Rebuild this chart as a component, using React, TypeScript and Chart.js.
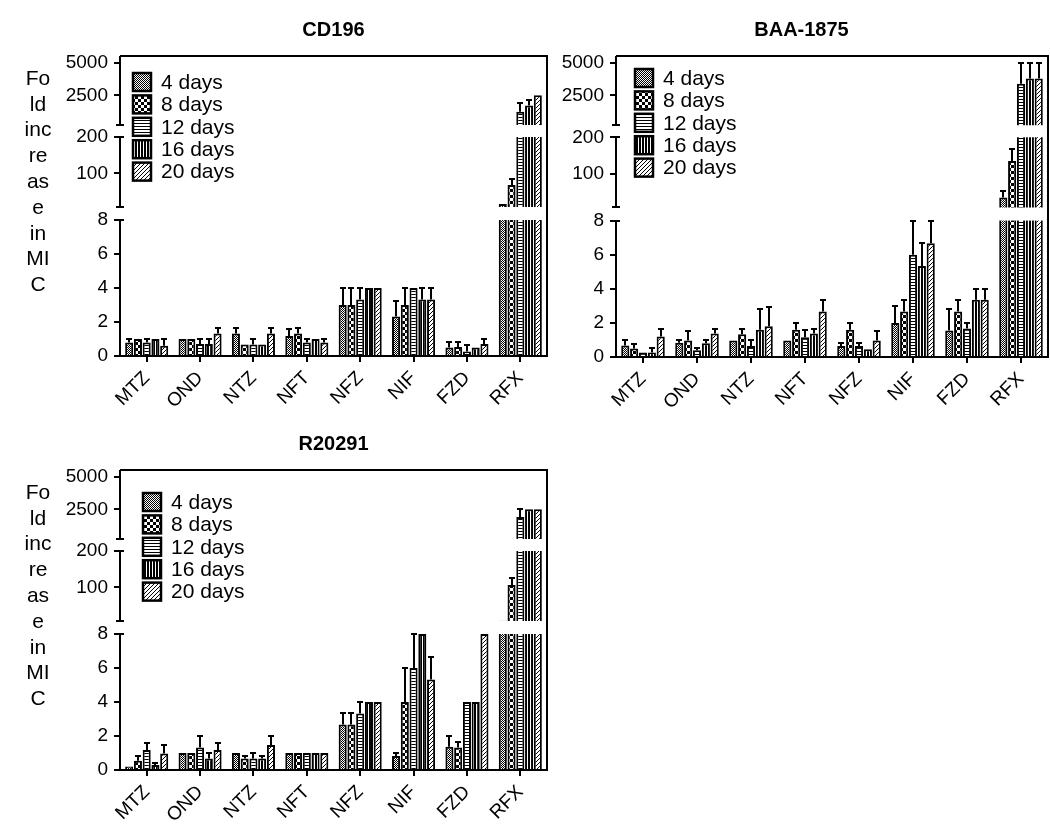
import React, { useEffect, useRef } from 'react';
import { Chart, registerables, LinearScale } from 'chart.js';

Chart.register(...registerables);

// ---------- data ----------
const categories = ['MTZ', 'OND', 'NTZ', 'NFT', 'NFZ', 'NIF', 'FZD', 'RFX'];
const seriesLabels = ['4 days', '8 days', '12 days', '16 days', '20 days'];
const yTickValues = [0, 2, 4, 6, 8, 100, 200, 2500, 5000];
const yTitleLines = ['Fo', 'ld', 'inc', 're', 'as', 'e', 'in', 'MI', 'C'];
const panelTitles = ['CD196', 'BAA-1875', 'R20291'];

// CD196
const cd196Day4 = [0.8, 1.0, 1.33, 1.17, 3.0, 2.33, 0.5, 16];
const cd196Day4Err = [0.2, 0, 0.33, 0.43, 1.0, 0.9, 0.3, 0];
const cd196Day8 = [1.0, 1.0, 0.67, 1.33, 3.0, 3.0, 0.53, 68];
const cd196Day8Err = [0, 0, 0, 0.33, 1.0, 1.0, 0.3, 18];
const cd196Day12 = [0.8, 0.7, 0.67, 0.8, 3.33, 4.0, 0.27, 1230];
const cd196Day12Err = [0.2, 0.3, 0.33, 0.2, 0.67, 0, 0.38, 650];
const cd196Day16 = [1.0, 0.7, 0.67, 1.0, 4.0, 3.33, 0.5, 1700];
const cd196Day16Err = [0, 0.3, 0, 0, 0, 0.67, 0, 430];
const cd196Day20 = [0.6, 1.33, 1.33, 0.8, 4.0, 3.33, 0.7, 2500];
const cd196Day20Err = [0.4, 0.33, 0.33, 0.2, 0, 0.67, 0.3, 0];

// BAA-1875
const baaDay4 = [0.67, 0.83, 0.97, 0.97, 0.64, 2.0, 1.55, 35];
const baaDay4Err = [0.33, 0.14, 0, 0, 0.19, 1.0, 1.25, 18];
const baaDay8 = [0.5, 0.97, 1.33, 1.6, 1.6, 2.67, 2.67, 135];
const baaDay8Err = [0.25, 0.53, 0.33, 0.4, 0.4, 0.67, 0.67, 33];
const baaDay12 = [0.27, 0.39, 0.64, 1.16, 0.64, 6.0, 1.67, 3400];
const baaDay12Err = [0, 0.15, 0.36, 0.44, 0.16, 2.0, 0.33, 1600];
const baaDay16 = [0.27, 0.8, 1.6, 1.38, 0.45, 5.33, 3.35, 3800];
const baaDay16Err = [0.23, 0.2, 1.23, 0.27, 0, 1.37, 0.65, 1200];
const baaDay20 = [1.2, 1.38, 1.8, 2.67, 0.97, 6.67, 3.35, 3800];
const baaDay20Err = [0.45, 0.29, 1.15, 0.68, 0.53, 1.33, 0.65, 1200];

// R20291
const r20291Day4 = [0.2, 1.0, 1.0, 1.0, 2.67, 0.83, 1.37, 9];
const r20291Day4Err = [0, 0, 0, 0, 0.67, 0.17, 0.63, 0];
const r20291Day8 = [0.55, 1.0, 0.67, 1.0, 2.67, 4.0, 1.33, 107];
const r20291Day8Err = [0.27, 0, 0.17, 0, 0.67, 2.0, 0.33, 18];
const r20291Day12 = [1.17, 1.33, 0.67, 1.0, 3.33, 6.0, 4.0, 1900];
const r20291Day12Err = [0.43, 0.67, 0.33, 0, 0.67, 2.0, 0, 600];
const r20291Day16 = [0.3, 0.67, 0.67, 1.0, 4.0, 8.0, 4.0, 2500];
const r20291Day16Err = [0.13, 0.33, 0.17, 0, 0, 0, 0, 0];
const r20291Day20 = [0.97, 1.17, 1.47, 1.0, 4.0, 5.33, 8.0, 2500];
const r20291Day20Err = [0.53, 0.43, 0.53, 0, 0, 1.33, 0, 0];

// ---------- broken axis scale ----------
// each segment: [valueMin, valueMax, fractionFrom, fractionTo] (fraction of axis height from bottom)
const axisSegments = [
  [0, 8, 0, 0.4533],
  [8, 200, 0.4967, 0.73],
  [200, 5540, 0.77, 1.0],
];

class BrokenScale extends LinearScale {
  static id = 'broken';
  toFraction(v: number): number {
    const segs = axisSegments;
    for (let i = 0; i < segs.length; i++) {
      const s = segs[i];
      if (v <= s[1] || i === segs.length - 1) {
        const t = Math.max(0, (v - s[0]) / (s[1] - s[0]));
        return s[2] + t * (s[3] - s[2]);
      }
    }
    return 0;
  }
  getPixelForValue(v: number): number {
    const f = this.toFraction(v);
    return this.bottom - f * (this.bottom - this.top);
  }
  getValueForPixel(p: number): number {
    const f = (this.bottom - p) / (this.bottom - this.top);
    for (const s of axisSegments) {
      if (f <= s[3]) {
        const t = Math.max(0, (f - s[2]) / (s[3] - s[2]));
        return s[0] + t * (s[1] - s[0]);
      }
    }
    return axisSegments[axisSegments.length - 1][1];
  }
}
Chart.register(BrokenScale as any);

Chart.defaults.font.family = '"Liberation Sans", Arial, Helvetica, sans-serif';
Chart.defaults.color = '#000';

// ---------- patterns ----------
function makePattern(kind: number): CanvasPattern | string {
  const c = document.createElement('canvas');
  const ctx = c.getContext('2d');
  if (!ctx) return '#888';
  if (kind === 0) {
    c.width = 2; c.height = 2;
    ctx.fillStyle = '#fff'; ctx.fillRect(0, 0, 2, 2);
    ctx.fillStyle = '#000'; ctx.fillRect(0, 0, 1, 1); ctx.fillRect(1, 1, 1, 1);
  } else if (kind === 1) {
    c.width = 6; c.height = 6;
    ctx.fillStyle = '#000'; ctx.fillRect(0, 0, 6, 6);
    ctx.fillStyle = '#fff'; ctx.fillRect(0, 0, 3, 3); ctx.fillRect(3, 3, 3, 3);
  } else if (kind === 2) {
    c.width = 3; c.height = 3;
    ctx.fillStyle = '#fff'; ctx.fillRect(0, 0, 3, 3);
    ctx.fillStyle = '#000'; ctx.fillRect(0, 0, 3, 1);
  } else if (kind === 3) {
    c.width = 3; c.height = 3;
    ctx.fillStyle = '#fff'; ctx.fillRect(0, 0, 3, 3);
    ctx.fillStyle = '#000'; ctx.fillRect(0, 0, 2, 3);
  } else {
    c.width = 4; c.height = 4;
    ctx.fillStyle = '#fff'; ctx.fillRect(0, 0, 4, 4);
    ctx.fillStyle = '#000';
    ctx.fillRect(3, 0, 1, 1); ctx.fillRect(2, 1, 1, 1); ctx.fillRect(1, 2, 1, 1); ctx.fillRect(0, 3, 1, 1);
  }
  const p = ctx.createPattern(c, 'repeat');
  return p || '#888';
}

// ---------- panels ----------
type PanelCfg = {
  title: string;
  left: number; top: number; width: number; height: number;
  yWidth: number; xHeight: number; padRight: number;
  titleFullSize: boolean; showYTitle: boolean;
  legendDx: number; legendDy: number;
  values: number[][]; errors: number[][];
};

const panels: PanelCfg[] = [
  {
    title: panelTitles[0], left: 0, top: 0, width: 555, height: 415,
    yWidth: 120, xHeight: 59, padRight: 8, titleFullSize: false, showYTitle: true,
    legendDx: 13, legendDy: 26,
    values: [cd196Day4, cd196Day8, cd196Day12, cd196Day16, cd196Day20],
    errors: [cd196Day4Err, cd196Day8Err, cd196Day12Err, cd196Day16Err, cd196Day20Err],
  },
  {
    title: panelTitles[1], left: 555, top: 0, width: 495, height: 415,
    yWidth: 61, xHeight: 58, padRight: 2, titleFullSize: true, showYTitle: false,
    legendDx: 19, legendDy: 22,
    values: [baaDay4, baaDay8, baaDay12, baaDay16, baaDay20],
    errors: [baaDay4Err, baaDay8Err, baaDay12Err, baaDay16Err, baaDay20Err],
  },
  {
    title: panelTitles[2], left: 0, top: 414, width: 555, height: 411,
    yWidth: 120, xHeight: 55, padRight: 8, titleFullSize: false, showYTitle: true,
    legendDx: 23, legendDy: 32,
    values: [r20291Day4, r20291Day8, r20291Day12, r20291Day16, r20291Day20],
    errors: [r20291Day4Err, r20291Day8Err, r20291Day12Err, r20291Day16Err, r20291Day20Err],
  },
];

function makeDecor(cfg: PanelCfg) {
  return {
    id: 'decor',
    afterDatasetsDraw(chart: any) {
      const { ctx, chartArea: a } = chart;
      const ys = chart.scales.y;
      const fy = (f: number) => ys.bottom - f * (ys.bottom - ys.top);
      ctx.save();
      // white breaks across bars
      ctx.fillStyle = '#fff';
      for (let i = 0; i < axisSegments.length - 1; i++) {
        const yTop = fy(axisSegments[i + 1][2]);
        const yBot = fy(axisSegments[i][3]);
        ctx.fillRect(a.left + 1, yTop, a.right - a.left - 2, yBot - yTop);
      }
      // error bars
      ctx.strokeStyle = '#000';
      ctx.lineWidth = 2;
      chart.data.datasets.forEach((ds: any, di: number) => {
        const meta = chart.getDatasetMeta(di);
        ds.data.forEach((v: number, j: number) => {
          const e = ds.errors[j];
          if (!e) return;
          const bar = meta.data[j];
          const x = Math.round(bar.x);
          const y0 = ys.getPixelForValue(v);
          const y1 = Math.round(ys.getPixelForValue(v + e));
          ctx.beginPath();
          ctx.moveTo(x, y0);
          ctx.lineTo(x, y1);
          ctx.moveTo(x - 3, y1);
          ctx.lineTo(x + 3, y1);
          ctx.stroke();
        });
      });
      // frame: top and right
      ctx.beginPath();
      ctx.moveTo(a.left, a.top);
      ctx.lineTo(a.right, a.top);
      ctx.lineTo(a.right, a.bottom);
      ctx.stroke();
      // broken left axis
      const x = a.left;
      axisSegments.forEach((s, i) => {
        const yb = Math.round(fy(s[2]));
        const yt = Math.round(fy(s[3]));
        ctx.beginPath();
        ctx.moveTo(x, yb + (i === 0 ? 1 : 0));
        ctx.lineTo(x, yt);
        if (i > 0) { ctx.moveTo(x - 4, yb); ctx.lineTo(x + 4, yb); }
        if (i < axisSegments.length - 1) { ctx.moveTo(x - 4, yt); ctx.lineTo(x + 4, yt); }
        ctx.stroke();
      });
      ctx.restore();
    },
    afterDraw(chart: any) {
      const { ctx, chartArea: a } = chart;
      ctx.save();
      // legend
      const bx = a.left + cfg.legendDx;
      ctx.font = '21px "Liberation Sans", Arial, sans-serif';
      ctx.textBaseline = 'middle';
      ctx.textAlign = 'left';
      chart.data.datasets.forEach((ds: any, i: number) => {
        const cy = a.top + cfg.legendDy + i * 22.4;
        ctx.fillStyle = ds.backgroundColor;
        ctx.fillRect(bx, cy - 9, 18, 18);
        ctx.strokeStyle = '#000';
        ctx.lineWidth = 2.5;
        ctx.strokeRect(bx, cy - 9, 18, 18);
        ctx.fillStyle = '#000';
        ctx.fillText(ds.label, bx + 28, cy + 1);
      });
      // y title (wrapped, horizontal)
      if (cfg.showYTitle) {
        ctx.font = '21px "Liberation Sans", Arial, sans-serif';
        ctx.textAlign = 'center';
        ctx.fillStyle = '#000';
        yTitleLines.forEach((t, i) => {
          ctx.fillText(t, 38, a.top + 23 + i * 25.8);
        });
      }
      ctx.restore();
    },
  };
}

function Panel({ cfg }: { cfg: PanelCfg }) {
  const ref = useRef<HTMLCanvasElement>(null);
  useEffect(() => {
    if (!ref.current) return;
    const patterns = [0, 1, 2, 3, 4].map(makePattern);
    const chart = new Chart(ref.current, {
      type: 'bar',
      data: {
        labels: categories,
        datasets: seriesLabels.map((label, i) => ({
          label,
          data: cfg.values[i],
          errors: cfg.errors[i],
          backgroundColor: patterns[i] as any,
          borderColor: '#000',
          borderWidth: 2,
          categoryPercentage: 0.82,
          barPercentage: 0.92,
        })) as any,
      },
      options: {
        responsive: false,
        animation: false,
        layout: { padding: { left: 0, right: cfg.padRight, top: 0, bottom: 0 } },
        plugins: {
          legend: { display: false },
          tooltip: { enabled: false },
          title: {
            display: true,
            text: cfg.title,
            fullSize: cfg.titleFullSize,
            color: '#000',
            font: { size: 20, weight: 'bold' },
            padding: { top: 18, bottom: 14 },
          },
        },
        scales: {
          x: {
            type: 'category',
            offset: true,
            grid: { drawOnChartArea: false, drawTicks: true, tickLength: 6, offset: false, color: '#000', lineWidth: 2 },
            border: { display: true, color: '#000', width: 2 },
            ticks: { autoSkip: false, minRotation: 45, maxRotation: 45, padding: 5, color: '#000', font: { size: 19 } },
            afterFit: (s: any) => { s.height = cfg.xHeight; },
          },
          y: {
            type: 'broken' as any,
            min: 0,
            max: 5540,
            grid: { drawOnChartArea: false, drawTicks: true, tickLength: 6, color: '#000', lineWidth: 2 },
            border: { display: false },
            ticks: { autoSkip: false, padding: 6, color: '#000', font: { size: 19 }, callback: (v: any) => String(v) },
            afterBuildTicks: (s: any) => { s.ticks = yTickValues.map((v) => ({ value: v })); },
            afterFit: (s: any) => { s.width = cfg.yWidth; },
          } as any,
        },
      },
      plugins: [makeDecor(cfg)],
    } as any);
    return () => chart.destroy();
  }, []);
  return (
    <canvas
      ref={ref}
      width={cfg.width}
      height={cfg.height}
      style={{ position: 'absolute', left: cfg.left, top: cfg.top, width: cfg.width, height: cfg.height }}
    />
  );
}

export default function App() {
  return (
    <div style={{ position: 'absolute', left: 0, top: 0, width: 1050, height: 825, background: '#fff' }}>
      {panels.map((p) => (
        <Panel key={p.title} cfg={p} />
      ))}
    </div>
  );
}
